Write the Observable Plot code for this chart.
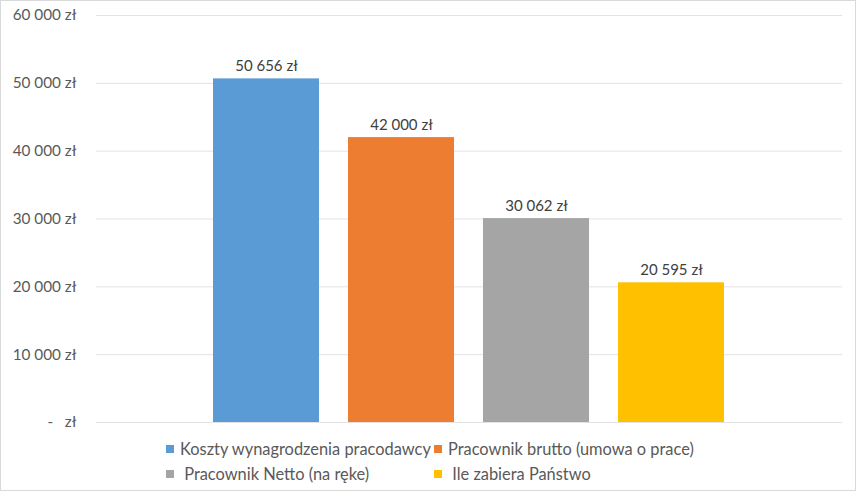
<!DOCTYPE html>
<html>
<head>
<meta charset="utf-8">
<script src="https://cdn.jsdelivr.net/npm/d3@7"></script>
<script src="https://cdn.jsdelivr.net/npm/@observablehq/plot@0.6"></script>
<style>
  html, body { margin: 0; padding: 0; background: #fff; }
  #wrap { position: relative; width: 856px; height: 491px; overflow: hidden; font-family: Lato, "Open Sans", sans-serif; }
  #frame { position: absolute; left: 0; top: 0; width: 856px; height: 491px; box-sizing: border-box; border: 1px solid #d9d9d9; pointer-events: none; }
  #chart svg { display: block; }
  #legend { position: absolute; left: 0; top: 432px; width: 856px; height: 56px; font-size: 16.4px; color: #595959; }
  .item { position: absolute; display: flex; align-items: center; white-space: pre; line-height: 18px; }
  .sw { width: 8px; height: 8px; margin-right: 6px; flex: none; }
</style>
</head>
<body>
<div id="wrap">
  <div id="chart"></div>
  <div id="legend"></div>
  <div id="frame"></div>
</div>
<script>
const categories = [
  "Koszty wynagrodzenia pracodawcy",
  "Pracownik brutto (umowa o prace)",
  "Pracownik Netto (na ręke)",
  "Ile zabiera Państwo"
];
const legendLabels = [
  "Koszty wynagrodzenia pracodawcy",
  "Pracownik brutto (umowa o prace)",
  " Pracownik Netto (na ręke)",
  " Ile zabiera Państwo"
];
const values = [50656, 42000, 30062, 20595];
const colors = ["#5B9BD5", "#ED7D31", "#A5A5A5", "#FFC000"];
const yTicks = [0, 10000, 20000, 30000, 40000, 50000, 60000];

const data = categories.map((c, i) => ({name: c, value: values[i]}));
const fmt = d => d3.format(",")(d).replace(/,/g, "\u00a0") + "\u00a0zł";
const tickFmt = d => d === 0 ? "-\u00a0\u00a0\u00a0zł" : fmt(d);

const chart = Plot.plot({
  width: 856,
  height: 432,
  marginLeft: 96,
  marginRight: 14,
  marginTop: 15,
  marginBottom: 10,
  style: {fontFamily: "Lato, 'Open Sans', sans-serif", fontSize: "15px", color: "#595959", background: "transparent"},
  x: {type: "band", domain: categories, paddingInner: 0.214, paddingOuter: 0.86, axis: null},
  y: {domain: [0, 60000], axis: null},
  color: {domain: categories, range: colors},
  marks: [
    Plot.ruleY(yTicks, {stroke: "#e3e3e3", strokeWidth: 1}),
    Plot.axisY(yTicks, {tickFormat: tickFmt, tickSize: 0, tickPadding: 20, fill: "#595959", fontSize: 15.3, label: null}),
    Plot.barY(data, {x: "name", y: "value", fill: "name"}),
    Plot.text(data, {x: "name", y: "value", text: d => fmt(d.value), lineAnchor: "bottom", dy: -8, fill: "#404040", fontSize: 15})
  ]
});
document.getElementById("chart").appendChild(chart);

// legend
const legend = document.getElementById("legend");
const pos = [
  {left: 166, top: 8},
  {left: 434, top: 8},
  {left: 166, top: 33},
  {left: 434, top: 33}
];
legendLabels.forEach((lab, i) => {
  const it = document.createElement("div");
  it.className = "item";
  it.style.left = pos[i].left + "px";
  it.style.top = pos[i].top + "px";
  const sw = document.createElement("span");
  sw.className = "sw";
  sw.style.background = colors[i];
  const tx = document.createElement("span");
  tx.textContent = lab;
  it.appendChild(sw);
  it.appendChild(tx);
  legend.appendChild(it);
});
</script>
</body>
</html>
